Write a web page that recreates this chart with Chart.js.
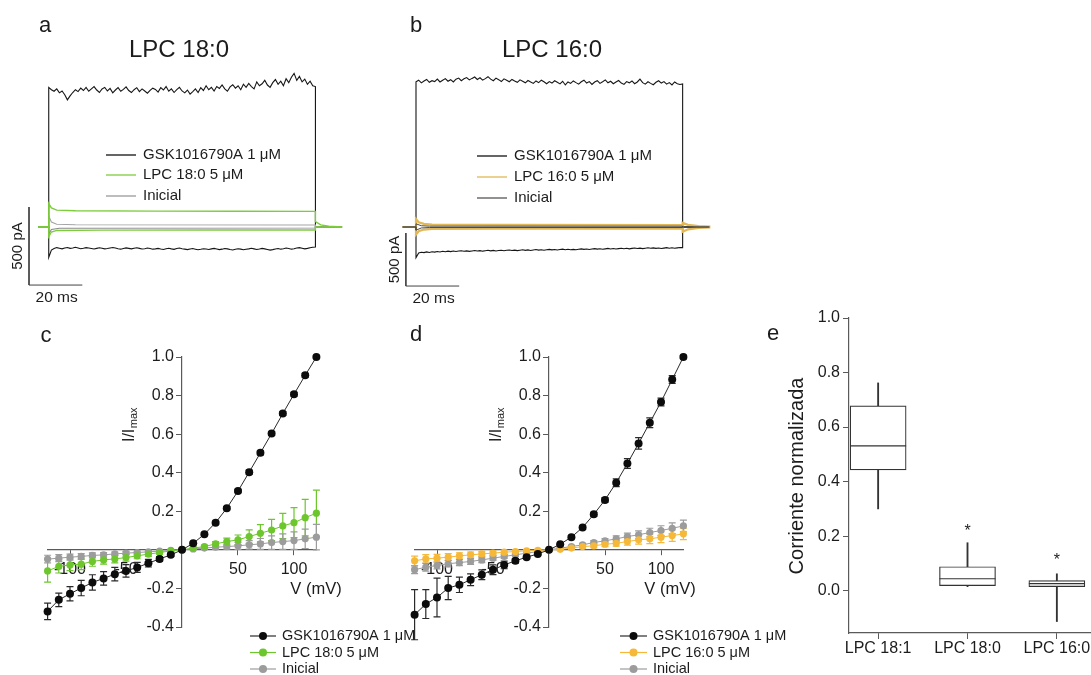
<!DOCTYPE html>
<html><head><meta charset="utf-8">
<script src="https://cdn.jsdelivr.net/npm/chart.js@4.4.1/dist/chart.umd.min.js"></script>
<style>
html,body{margin:0;padding:0;background:#fff;}
#wrap{position:relative;width:1091px;height:675px;overflow:hidden;background:#fff;}
#wrap canvas{position:absolute;left:0;top:0;}
</style></head><body>
<div id="wrap">
<canvas id="cA" width="1091" height="675"></canvas>
<canvas id="cB" width="1091" height="675"></canvas>
<canvas id="cC" width="1091" height="675"></canvas>
<canvas id="cD" width="1091" height="675"></canvas>
<canvas id="cE" width="1091" height="675"></canvas>
</div>
<script>
// ---------------- DATA ----------------
// Panels a/b : current traces (pA) sampled every SAMPLE_MS during a 100 ms pulse
const SAMPLE_MS = 1;
const PULSE_MS = 100;
const A_GSK_POS = [895,880,870,885,860,872,848,815,840,862, 880,868,890,875,895,870,885,900,878,862,
  885,895,872,888,860,878,893,870,882,898, 875,862,880,893,868,885,872,858,876,890,
  882,865,893,878,900,870,885,862,880,895, 872,860,878,852,868,885,862,893,875,905,
  880,895,872,900,888,910,885,870,898,912, 890,905,880,915,895,920,900,885,930,905,
  918,940,910,895,925,945,915,935,905,950, 925,960,985,940,965,930,948,915,935,905, 900];
const A_GSK_NEG = [-195,-148,-138,-132,-136,-140,-134,-131,-137,-135, -130,-134,-139,-136,-132,-135,-138,-141,-137,-133,
  -136,-140,-138,-134,-131,-135,-139,-142,-138,-134, -137,-140,-136,-133,-137,-141,-139,-135,-138,-142,
  -140,-137,-141,-144,-139,-136,-140,-143,-138,-135, -139,-142,-145,-141,-138,-142,-146,-143,-139,-141,
  -144,-140,-137,-141,-145,-142,-138,-140,-144,-147, -143,-139,-142,-146,-143,-140,-136,-140,-144,-141,
  -137,-140,-144,-148,-145,-141,-138,-142,-139,-135, -138,-142,-139,-135,-132,-136,-140,-137,-133,-130, -128];
// [time ms, current pA] pairs for the smoother traces
const A_LPC_POS = [[0,150],[1,122],[3,108],[10,104],[40,102],[70,101],[100,100]];
const A_LPC_NEG = [[0,-62],[1,-32],[3,-22],[20,-20],[60,-19],[100,-19]];
const A_INI_POS = [[0,70],[1,32],[3,18],[10,14],[100,13]];
const A_INI_NEG = [[0,-45],[1,-16],[4,-8],[100,-6]];
const A_LPC_TAIL = [[100,35],[102,14],[105,5],[110,0]];
const B_GSK_POS = [1370,1385,1360,1378,1392,1365,1380,1372,1395,1368, 1385,1400,1375,1390,1368,1395,1405,1380,1398,1410,
  1388,1402,1415,1392,1408,1385,1400,1418,1395,1380, 1405,1390,1372,1398,1385,1370,1392,1378,1365,1388,
  1375,1360,1382,1368,1355,1378,1362,1385,1370,1352, 1372,1358,1380,1365,1350,1375,1340,1368,1355,1378,
  1362,1348,1370,1385,1358,1372,1345,1368,1380,1355, 1370,1388,1360,1375,1352,1368,1382,1358,1345,1372,
  1360,1378,1352,1368,1395,1362,1348,1370,1355,1342, 1365,1380,1358,1372,1348,1362,1340,1368,1352,1345, 1350];
const B_GSK_NEG = [-290,-245,-238,-242,-235,-240,-233,-237,-231,-236, -229,-234,-228,-232,-226,-231,-227,-224,-229,-225,
  -230,-226,-222,-227,-223,-228,-224,-220,-225,-221, -226,-222,-219,-224,-220,-217,-222,-218,-223,-219,
  -215,-220,-216,-221,-217,-213,-218,-214,-219,-215, -211,-216,-212,-217,-213,-209,-214,-210,-215,-211,
  -214,-210,-206,-211,-207,-212,-208,-204,-209,-205, -210,-206,-202,-207,-203,-208,-204,-200,-205,-201,
  -206,-202,-198,-203,-199,-204,-200,-196,-201,-197, -202,-198,-203,-199,-195,-200,-196,-201,-197,-193, -195];
const B_LPC_POS = [[0,75],[1,45],[3,30],[6,22],[30,20],[100,19]];
const B_LPC_NEG = [[0,-70],[1,-40],[3,-24],[6,-17],[30,-15],[100,-15]];
const B_INI_POS = [[0,30],[2,12],[5,8],[100,7]];
const B_INI_NEG = [[0,-30],[2,-9],[5,-5],[100,-5]];
const B_LPC_TAIL_POS = [[100,-45],[102,-22],[106,-8],[110,-4]];
const B_LPC_TAIL_NEG = [[100,40],[102,20],[106,8],[110,4]];
// scale bars: [origin time ms, origin current pA, length ms, length pA]
const A_SCALEBAR = [-7.4, -372, 20, 500];
const B_SCALEBAR = [-3.8, -557, 20, 500];

// Panels c/d : I-V curves (normalised current)
const IV_V = [-120,-110,-100,-90,-80,-70,-60,-50,-40,-30,-20,-10,0,10,20,30,40,50,60,70,80,90,100,110,120];
const IV_X_TICKS = [-100,-50,50,100];
const IV_Y_TICKS = [-0.4,-0.2,0.2,0.4,0.6,0.8,1.0];
const C_GSK = [-0.319,-0.259,-0.228,-0.198,-0.169,-0.148,-0.126,-0.109,-0.091,-0.069,-0.047,-0.026,0,0.034,0.081,0.141,0.216,0.305,0.403,0.503,0.603,0.707,0.807,0.905,1.0];
const C_GSK_ERR = [0.043,0.035,0.037,0.04,0.04,0.035,0.035,0.032,0.026,0.02,0.012,0.008,0,0.005,0.006,0.007,0.008,0.009,0.01,0.01,0.01,0.01,0.01,0.01,0.005];
const C_LPC = [-0.109,-0.086,-0.078,-0.074,-0.06,-0.052,-0.047,-0.04,-0.031,-0.022,-0.014,-0.005,0,0.009,0.017,0.031,0.043,0.052,0.069,0.086,0.103,0.124,0.141,0.167,0.19];
const C_LPC_ERR = [0.058,0.034,0.03,0.028,0.025,0.022,0.02,0.018,0.015,0.012,0.008,0.005,0,0.005,0.008,0.012,0.018,0.025,0.035,0.045,0.055,0.065,0.078,0.095,0.12];
const C_INI = [-0.048,-0.043,-0.038,-0.034,-0.029,-0.026,-0.021,-0.017,-0.014,-0.01,-0.007,-0.003,0,0.005,0.009,0.014,0.017,0.021,0.026,0.031,0.038,0.043,0.048,0.057,0.066];
const C_INI_ERR = [0.02,0.018,0.016,0.015,0.013,0.012,0.01,0.009,0.008,0.006,0.005,0.003,0,0.004,0.007,0.01,0.013,0.018,0.022,0.028,0.035,0.04,0.045,0.05,0.066];
const D_GSK = [-0.336,-0.281,-0.247,-0.198,-0.181,-0.155,-0.129,-0.103,-0.078,-0.057,-0.038,-0.021,0,0.029,0.066,0.116,0.184,0.259,0.348,0.448,0.552,0.659,0.767,0.883,1.0];
const D_GSK_ERR = [0.13,0.075,0.1,0.06,0.04,0.03,0.025,0.025,0.02,0.012,0.008,0.005,0,0.004,0.006,0.008,0.01,0.012,0.02,0.025,0.03,0.025,0.02,0.02,0.008];
const D_LPC = [-0.057,-0.047,-0.043,-0.038,-0.031,-0.026,-0.021,-0.017,-0.012,-0.009,-0.005,-0.002,0,0.003,0.009,0.017,0.021,0.029,0.034,0.043,0.052,0.057,0.066,0.074,0.083];
const D_LPC_ERR = [0.025,0.022,0.02,0.018,0.016,0.015,0.013,0.012,0.01,0.008,0.006,0.004,0,0.004,0.006,0.008,0.01,0.012,0.015,0.018,0.022,0.025,0.028,0.03,0.03];
const D_INI = [-0.103,-0.09,-0.081,-0.072,-0.066,-0.06,-0.052,-0.043,-0.034,-0.026,-0.017,-0.009,0,0.009,0.017,0.026,0.038,0.047,0.057,0.069,0.078,0.09,0.1,0.112,0.124];
const D_INI_ERR = [0.02,0.02,0.018,0.017,0.016,0.015,0.014,0.012,0.01,0.008,0.006,0.004,0,0.004,0.006,0.008,0.01,0.012,0.015,0.018,0.02,0.022,0.025,0.028,0.03];

// Panel e : box plot
const E_CATEGORIES = ['LPC 18:1','LPC 18:0','LPC 16:0'];
const E_MIN    = [0.300, 0.015, -0.113];
const E_Q1     = [0.443, 0.019, 0.015];
const E_MEDIAN = [0.531, 0.044, 0.026];
const E_Q3     = [0.678, 0.088, 0.037];
const E_MAX    = [0.762, 0.176, 0.062];
const E_STAR_Y = [null, 0.232, 0.125];
const E_Y_TICKS = [0.0,0.2,0.4,0.6,0.8,1.0];

// ---------------- STYLE ----------------
const FONT = "'Liberation Sans', Arial, Helvetica, sans-serif";
const INK = '#1c1c1c';
const AX = '#5a5a5a';
const GREEN = '#6cc62c';
const GREEN_TR = '#7ccc3c';
const GOLD_TR = '#e2b756';
const ORANGE = '#f5b838';
const GREY = '#9c9c9c';
const MU = '\u03bc';

function txt(ctx, s, x, y, size, o = {}) {
  ctx.save();
  ctx.font = (o.weight || '') + ' ' + size + 'px ' + FONT;
  ctx.fillStyle = o.color || INK;
  ctx.textAlign = o.align || 'center';
  ctx.textBaseline = o.base || 'middle';
  ctx.translate(x, y);
  if (o.rot) ctx.rotate(o.rot);
  ctx.fillText(s, 0, 0);
  ctx.restore();
}
function hline(ctx, x1, x2, y, color, w) {
  ctx.save(); ctx.strokeStyle = color; ctx.lineWidth = w || 1;
  ctx.beginPath(); ctx.moveTo(x1, y); ctx.lineTo(x2, y); ctx.stroke(); ctx.restore();
}

// ---------------- TRACE PANELS (a, b) ----------------
function pulseFromSamples(samples, tStart, tEnd, tail) {
  const pts = [{x: tStart, y: 0}, {x: 0, y: 0}];
  samples.forEach((v, i) => pts.push({x: i * SAMPLE_MS, y: v}));
  (tail || [[PULSE_MS, 0]]).forEach(p => pts.push({x: p[0], y: p[1]}));
  pts.push({x: tEnd, y: 0});
  return pts;
}
function pulseFromPairs(pairs, tStart, tEnd, tail) {
  const pts = [{x: tStart, y: 0}, {x: 0, y: 0}];
  pairs.forEach(p => pts.push({x: p[0], y: p[1]}));
  (tail || [[PULSE_MS, 0]]).forEach(p => pts.push({x: p[0], y: p[1]}));
  pts.push({x: tEnd, y: 0});
  return pts;
}
function scaleBarPts(sb) {
  return [{x: sb[0], y: sb[1] + sb[3]}, {x: sb[0], y: sb[1]}, {x: sb[0] + sb[2], y: sb[1]}];
}

function traceChart(id, cfg) {
  const ds = cfg.traces.map(t => ({
    data: t.pts, borderColor: t.color, borderWidth: t.w, pointRadius: 0,
    tension: 0, fill: false, clip: false, borderJoinStyle: 'miter'
  }));
  ds.push({data: scaleBarPts(cfg.bar), borderColor: '#444', borderWidth: 1, pointRadius: 0, tension: 0, fill: false, clip: false});
  new Chart(document.getElementById(id), {
    type: 'line',
    data: {datasets: ds},
    options: {
      responsive: false, animation: false, events: [],
      layout: {padding: cfg.padding, autoPadding: false},
      plugins: {legend: {display: false}, tooltip: {enabled: false}},
      scales: {
        x: {type: 'linear', display: false, min: cfg.xmin, max: cfg.xmax},
        y: {type: 'linear', display: false, min: cfg.ymin, max: cfg.ymax}
      }
    },
    plugins: [{
      id: 'deco_' + id,
      afterDraw(chart) {
        const ctx = chart.ctx, sx = chart.scales.x, sy = chart.scales.y, b = cfg.bar;
        txt(ctx, cfg.letter, cfg.letterPos[0], cfg.letterPos[1], 22);
        txt(ctx, cfg.title, cfg.titlePos[0], cfg.titlePos[1], 24);
        const bx = sx.getPixelForValue(b[0]);
        const byMid = sy.getPixelForValue(b[1] + b[3] / 2);
        txt(ctx, '500 pA', bx - 11, byMid, 15, {rot: -Math.PI / 2});
        txt(ctx, '20 ms', sx.getPixelForValue(b[0] + b[2] / 2) + 1, sy.getPixelForValue(b[1]) + 13, 15.5);
        cfg.legend.forEach((it, i) => {
          const y = cfg.legY[i];
          hline(ctx, cfg.legX[0], cfg.legX[1], y, it.color, 1.3);
          txt(ctx, it.label, cfg.legX[2], y, 15, {align: 'left'});
        });
      }
    }]
  });
}

traceChart('cA', {
  xmin: -8, xmax: 110, ymin: -480, ymax: 1080,
  padding: {left: 27.4, right: 1091 - 342.1, top: 58.5, bottom: 675 - 301.9},
  traces: [
    {pts: pulseFromPairs(A_LPC_POS, -4, 110, A_LPC_TAIL), color: GREEN_TR, w: 1.4},
    {pts: pulseFromPairs(A_LPC_NEG, -4, 110), color: GREEN_TR, w: 1.4},
    {pts: pulseFromPairs(A_INI_POS, -4, 110), color: '#a4a4a4', w: 1.1},
    {pts: pulseFromPairs(A_INI_NEG, -4, 110), color: '#8a8a8a', w: 1.1},
    {pts: pulseFromSamples(A_GSK_POS, -4, 110), color: '#161616', w: 1.1},
    {pts: pulseFromSamples(A_GSK_NEG, -4, 110), color: '#161616', w: 1.1}
  ],
  bar: A_SCALEBAR,
  letter: 'a', letterPos: [45, 26], title: 'LPC 18:0', titlePos: [179, 50],
  legend: [
    {label: 'GSK1016790A 1 ' + MU + 'M', color: '#111'},
    {label: 'LPC 18:0 5 ' + MU + 'M', color: GREEN_TR},
    {label: 'Inicial', color: '#999'}
  ],
  legX: [106, 136, 143], legY: [155, 175, 196]
});

traceChart('cB', {
  xmin: -6, xmax: 110, ymin: -700, ymax: 1600,
  padding: {left: 400, right: 1091 - 709.3, top: 57.4, bottom: 675 - 301.2},
  traces: [
    {pts: pulseFromPairs(B_INI_POS, -5, 110), color: '#4a4a4a', w: 1},
    {pts: pulseFromPairs(B_INI_NEG, -5, 110), color: '#4a4a4a', w: 1},
    {pts: pulseFromPairs(B_LPC_POS, -5, 110, B_LPC_TAIL_POS), color: GOLD_TR, w: 2.2},
    {pts: pulseFromPairs(B_LPC_NEG, -5, 110, B_LPC_TAIL_NEG), color: GOLD_TR, w: 2.2},
    {pts: pulseFromSamples(B_GSK_POS, -5, 110), color: '#161616', w: 1.1},
    {pts: pulseFromSamples(B_GSK_NEG, -5, 110), color: '#161616', w: 1.1}
  ],
  bar: B_SCALEBAR,
  letter: 'b', letterPos: [416, 26], title: 'LPC 16:0', titlePos: [552, 50],
  legend: [
    {label: 'GSK1016790A 1 ' + MU + 'M', color: '#111'},
    {label: 'LPC 16:0 5 ' + MU + 'M', color: GOLD_TR},
    {label: 'Inicial', color: '#555'}
  ],
  legX: [477, 507, 514], legY: [156, 177, 198]
});

// ---------------- I-V PANELS (c, d) ----------------
const errorBars = {
  id: 'errorBars',
  beforeDatasetsDraw(chart) {
    const ctx = chart.ctx, sy = chart.scales.y;
    chart.data.datasets.forEach((ds, di) => {
      const meta = chart.getDatasetMeta(di);
      if (!ds.errors) return;
      ctx.save();
      ctx.strokeStyle = ds.borderColor; ctx.lineWidth = 1.2;
      meta.data.forEach((pt, i) => {
        const e = ds.errors[i]; if (!e) return;
        const v = ds.data[i].y;
        const y1 = sy.getPixelForValue(v + e), y2 = sy.getPixelForValue(v - e);
        ctx.beginPath();
        ctx.moveTo(pt.x, y1); ctx.lineTo(pt.x, y2);
        ctx.moveTo(pt.x - 3.5, y1); ctx.lineTo(pt.x + 3.5, y1);
        ctx.moveTo(pt.x - 3.5, y2); ctx.lineTo(pt.x + 3.5, y2);
        ctx.stroke();
      });
      ctx.restore();
    });
  }
};

function ivChart(id, cfg) {
  const ds = cfg.series.map(s => ({
    label: s.label,
    data: IV_V.map((v, i) => ({x: v, y: s.values[i]})),
    errors: s.err,
    borderColor: s.line, backgroundColor: s.color, pointBackgroundColor: s.color,
    pointBorderWidth: 0, pointRadius: s.r, borderWidth: 1, showLine: true, tension: 0, clip: false
  }));
  new Chart(document.getElementById(id), {
    type: 'scatter',
    data: {datasets: ds},
    options: {
      responsive: false, animation: false, events: [],
      layout: {padding: cfg.padding, autoPadding: false},
      plugins: {legend: {display: false}, tooltip: {enabled: false}},
      scales: {
        x: {
          type: 'linear', min: -120, max: 120, position: {y: 0},
          afterFit(s) { s.height = 0; s.paddingLeft = 0; s.paddingRight = 0; },
          afterBuildTicks(s) { s.ticks = IV_X_TICKS.map(v => ({value: v})); },
          grid: {drawOnChartArea: false, drawTicks: true, tickLength: 5, color: AX, lineWidth: 1},
          border: {color: AX, width: 1.2},
          ticks: {font: {family: FONT, size: 16}, color: INK, padding: 5, maxRotation: 0, autoSkip: false}
        },
        y: {
          type: 'linear', min: -0.4, max: 1.0, position: {x: 0},
          afterFit(s) { s.width = 0; s.paddingTop = 0; s.paddingBottom = 0; },
          afterBuildTicks(s) { s.ticks = IV_Y_TICKS.map(v => ({value: v})); },
          grid: {drawOnChartArea: false, drawTicks: true, tickLength: 5, color: AX, lineWidth: 1},
          border: {color: AX, width: 1.2},
          ticks: {display: false}
        }
      }
    },
    plugins: [errorBars, {
      id: 'deco_' + id,
      afterDraw(chart) {
        const ctx = chart.ctx, sx = chart.scales.x, sy = chart.scales.y;
        // y tick labels, right-aligned left of the crossing axis
        const ax = sx.getPixelForValue(0);
        sy.ticks.forEach(t => txt(ctx, t.value.toFixed(1), ax - 8, sy.getPixelForValue(t.value), 16, {align: 'right'}));
        txt(ctx, cfg.letter, cfg.letterPos[0], cfg.letterPos[1], 22);
        // y title I/Imax
        ctx.save();
        ctx.translate(cfg.yTitle[0], cfg.yTitle[1]);
        ctx.rotate(-Math.PI / 2);
        ctx.fillStyle = INK; ctx.textBaseline = 'alphabetic'; ctx.textAlign = 'left';
        ctx.font = '16px ' + FONT;
        const w1 = ctx.measureText('I/I').width;
        ctx.font = '11px ' + FONT;
        const w2 = ctx.measureText('max').width;
        const x0 = -(w1 + w2) / 2;
        ctx.font = '16px ' + FONT;
        ctx.fillText('I/I', x0, 6);
        ctx.font = '11px ' + FONT;
        ctx.fillText('max', x0 + w1 + 0.5, 9);
        ctx.restore();
        txt(ctx, 'V (mV)', cfg.xTitle[0], cfg.xTitle[1], 16.5);
        // legend
        cfg.series.forEach((s, i) => {
          const y = cfg.legY[i];
          hline(ctx, cfg.legX[0], cfg.legX[1], y, s.line, 1.2);
          ctx.save(); ctx.fillStyle = s.color; ctx.beginPath();
          ctx.arc((cfg.legX[0] + cfg.legX[1]) / 2, y, 4, 0, Math.PI * 2); ctx.fill(); ctx.restore();
          txt(ctx, s.label, cfg.legX[2], y, 14.5, {align: 'left'});
        });
      }
    }]
  });
}

ivChart('cC', {
  padding: {left: 47.6, right: 1091 - 316.4, top: 357, bottom: 675 - 627},
  series: [
    {label: 'GSK1016790A 1 ' + MU + 'M', values: C_GSK, err: C_GSK_ERR, color: '#0c0c0c', line: '#2a2a2a', r: 4},
    {label: 'LPC 18:0 5 ' + MU + 'M', values: C_LPC, err: C_LPC_ERR, color: GREEN, line: GREEN, r: 3.6},
    {label: 'Inicial', values: C_INI, err: C_INI_ERR, color: GREY, line: GREY, r: 3.6}
  ],
  letter: 'c', letterPos: [46, 336], yTitle: [128, 425], xTitle: [316, 589],
  legX: [250, 276, 282], legY: [636, 652.5, 669]
});

ivChart('cD', {
  padding: {left: 414.6, right: 1091 - 683.4, top: 357, bottom: 675 - 627},
  series: [
    {label: 'GSK1016790A 1 ' + MU + 'M', values: D_GSK, err: D_GSK_ERR, color: '#0c0c0c', line: '#2a2a2a', r: 4},
    {label: 'LPC 16:0 5 ' + MU + 'M', values: D_LPC, err: D_LPC_ERR, color: ORANGE, line: ORANGE, r: 3.6},
    {label: 'Inicial', values: D_INI, err: D_INI_ERR, color: GREY, line: GREY, r: 3.6}
  ],
  letter: 'd', letterPos: [416, 335], yTitle: [495, 425], xTitle: [670, 589],
  legX: [620, 647, 653], legY: [636, 652.5, 669]
});

// ---------------- BOX PLOT (e) ----------------
(function () {
  const idx = E_CATEGORIES.map((c, i) => i + 1);
  const BOXW = 56;
  new Chart(document.getElementById('cE'), {
    type: 'bar',
    data: {
      datasets: [
        {type: 'scatter', data: idx.map((x, i) => ({x, y: E_MEDIAN[i]})), pointStyle: 'line',
         pointRadius: BOXW / 2, borderColor: '#333', borderWidth: 1.2, clip: false},
        {data: idx.map((x, i) => ({x, y: [E_Q1[i], E_Q3[i]]})), backgroundColor: '#fff', borderColor: '#333',
         borderWidth: 1.2, borderSkipped: false, barThickness: BOXW, grouped: false},
        {data: idx.map((x, i) => ({x, y: [E_Q3[i], E_MAX[i]]})), backgroundColor: '#333', borderWidth: 0,
         barThickness: 1.2, grouped: false},
        {data: idx.map((x, i) => ({x, y: [E_MIN[i], E_Q1[i]]})), backgroundColor: '#333', borderWidth: 0,
         barThickness: 1.2, grouped: false}
      ]
    },
    options: {
      responsive: false, animation: false, events: [],
      layout: {padding: {left: 849 - 45, right: 0, top: 318, bottom: 675 - 633 - 32}, autoPadding: false},
      plugins: {legend: {display: false}, tooltip: {enabled: false}},
      scales: {
        x: {
          type: 'linear', min: 0.674, max: 3.382, offset: false,
          afterFit(s) { s.height = 32; s.paddingLeft = 0; s.paddingRight = 0; },
          afterBuildTicks(s) { s.ticks = idx.map(v => ({value: v})); },
          grid: {drawOnChartArea: false, drawTicks: true, tickLength: 6, color: AX, offset: false},
          border: {color: AX, width: 1.2},
          ticks: {display: false}
        },
        y: {
          type: 'linear', min: -0.155, max: 1.0,
          afterFit(s) { s.width = 45; s.paddingTop = 0; s.paddingBottom = 0; },
          afterBuildTicks(s) { s.ticks = E_Y_TICKS.map(v => ({value: v})); },
          grid: {drawOnChartArea: false, drawTicks: true, tickLength: 6, color: AX},
          border: {color: AX, width: 1.2},
          ticks: {font: {family: FONT, size: 16}, color: INK, padding: 3, autoSkip: false,
                  callback: v => v.toFixed(1)}
        }
      }
    },
    plugins: [{
      id: 'decoE',
      afterDraw(chart) {
        const ctx = chart.ctx, sx = chart.scales.x, sy = chart.scales.y;
        // category labels under the x axis
        sx.ticks.forEach(t => txt(ctx, E_CATEGORIES[t.value - 1], sx.getPixelForValue(t.value), sx.top + 16, 16));
        txt(ctx, 'e', 773, 334, 22);
        txt(ctx, 'Corriente normalizada', 797, 476, 20, {rot: -Math.PI / 2});
        E_STAR_Y.forEach((v, i) => {
          if (v == null) return;
          txt(ctx, '*', sx.getPixelForValue(idx[i]), sy.getPixelForValue(v) + 4, 16);
        });
      }
    }]
  });
})();
</script>
</body></html>
